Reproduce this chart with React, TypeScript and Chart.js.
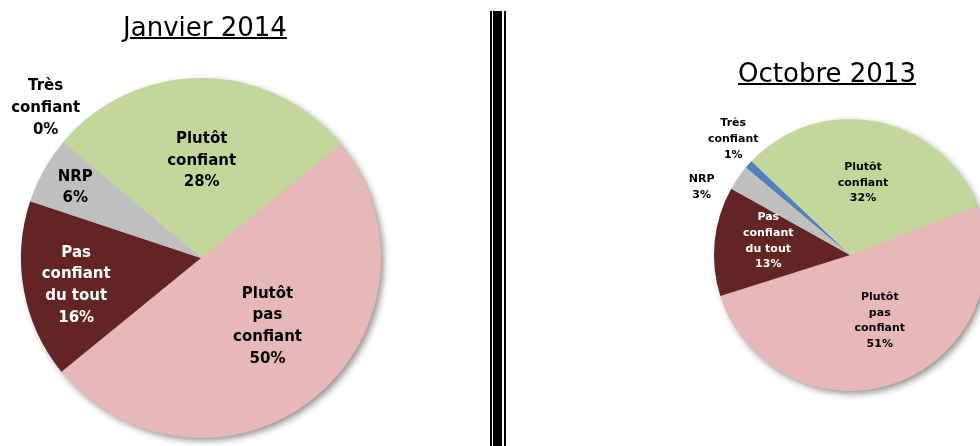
import React, { useEffect, useRef } from "react";
import { Chart, registerables } from "chart.js";
Chart.register(...registerables);

// ---- data ----
const categories: string[][] = [
  ["Très", "confiant"],
  ["Plutôt", "confiant"],
  ["Plutôt", "pas", "confiant"],
  ["Pas", "confiant", "du tout"],
  ["NRP"],
];
const jan2014Values = [0, 28, 50, 16, 6];
const oct2013Values = [1, 32, 51, 13, 3];
const titleJan = "Janvier 2014";
const titleOct = "Octobre 2013";

// ---- styles ----
const sliceColors = ["#4F81BD", "#C4D79B", "#E6B8B7", "#632523", "#BFBFBF"];
const labelColors = ["#000000", "#000000", "#000000", "#FFFFFF", "#000000"];

type Place = { f: number; off: number };

interface PieProps {
  values: number[];
  left: number;
  top: number;
  width: number;
  height: number;
  padding: { left: number; right: number; top: number; bottom: number };
  fontSize: number;
  lineHeight: number;
  places: Place[];
}

function PieChart(p: PieProps) {
  const ref = useRef<HTMLCanvasElement | null>(null);
  useEffect(() => {
    if (!ref.current) return;
    const shadowPlugin = {
      id: "shadowPlugin",
      beforeDatasetsDraw(chart: any) {
        const meta = chart.getDatasetMeta(0);
        const arc = meta.data[0];
        if (!arc) return;
        const { x, y, outerRadius } = arc.getProps(["x", "y", "outerRadius"], true);
        const ctx = chart.ctx;
        ctx.save();
        ctx.shadowColor = "rgba(0,0,0,0.45)";
        ctx.shadowBlur = 7;
        ctx.shadowOffsetX = 3;
        ctx.shadowOffsetY = 3;
        ctx.fillStyle = "#cccccc";
        ctx.beginPath();
        ctx.arc(x, y, outerRadius - 0.5, 0, Math.PI * 2);
        ctx.fill();
        ctx.restore();
      },
    };
    const labelPlugin = {
      id: "labelPlugin",
      afterDatasetsDraw(chart: any) {
        const meta = chart.getDatasetMeta(0);
        const ctx = chart.ctx;
        ctx.save();
        ctx.font = `bold ${p.fontSize}px "DejaVu Sans"`;
        ctx.textAlign = "center";
        ctx.textBaseline = "middle";
        meta.data.forEach((arc: any, i: number) => {
          const { x, y, startAngle, endAngle, outerRadius } = arc.getProps(
            ["x", "y", "startAngle", "endAngle", "outerRadius"],
            true
          );
          const pl = p.places[i];
          const mid = (startAngle + endAngle) / 2 + (pl.off * Math.PI) / 180;
          const cx = x + Math.cos(mid) * outerRadius * pl.f;
          const cy = y + Math.sin(mid) * outerRadius * pl.f;
          const lines = [...categories[i], `${p.values[i]}%`];
          const h = (lines.length - 1) * p.lineHeight;
          ctx.fillStyle = labelColors[i];
          lines.forEach((ln, k) => {
            ctx.fillText(ln, cx, cy - h / 2 + k * p.lineHeight);
          });
        });
        ctx.restore();
      },
    };
    const chart = new Chart(ref.current, {
      type: "pie",
      data: {
        labels: categories.map((c) => c.join(" ")),
        datasets: [
          {
            data: p.values,
            backgroundColor: sliceColors,
            borderWidth: 0,
          },
        ],
      },
      options: {
        animation: false,
        responsive: true,
        maintainAspectRatio: false,
        rotation: -50,
        layout: { padding: p.padding },
        plugins: {
          legend: { display: false },
          tooltip: { enabled: false },
          title: { display: false },
        },
      },
      plugins: [shadowPlugin, labelPlugin],
    });
    return () => chart.destroy();
  }, []);
  return (
    <div
      style={{
        position: "absolute",
        left: p.left,
        top: p.top,
        width: p.width,
        height: p.height,
      }}
    >
      <canvas ref={ref} />
    </div>
  );
}

const titleStyle: React.CSSProperties = {
  position: "absolute",
  width: 240,
  textAlign: "center",
  fontFamily: '"DejaVu Sans", sans-serif',
  fontSize: 26,
  lineHeight: "30px",
  textDecoration: "underline",
  textDecorationThickness: "2px",
  color: "#000",
  whiteSpace: "nowrap",
};

export default function App() {
  return (
    <div
      style={{
        position: "absolute",
        left: 0,
        top: 0,
        width: 980,
        height: 446,
        overflow: "hidden",
        background: "#ffffff",
      }}
    >
      <PieChart
        values={jan2014Values}
        left={0}
        top={0}
        width={488}
        height={446}
        padding={{ left: 21, top: 78, right: 107, bottom: 8 }}
        fontSize={15}
        lineHeight={21.7}
        places={[
          { f: 1.2, off: 4 },
          { f: 0.54, off: 0 },
          { f: 0.53, off: -5 },
          { f: 0.71, off: -2 },
          { f: 0.8, off: 0 },
        ]}
      />
      <PieChart
        values={oct2013Values}
        left={508}
        top={0}
        width={492}
        height={446}
        padding={{ left: 206, top: 119, right: 14, bottom: 55 }}
        fontSize={11}
        lineHeight={15.7}
        places={[
          { f: 1.21, off: 3 },
          { f: 0.54, off: -1 },
          { f: 0.53, off: -5 },
          { f: 0.61, off: 4 },
          { f: 1.2, off: -10 },
        ]}
      />
      <div style={{ ...titleStyle, left: 85, top: 12 }}>{titleJan}</div>
      <div style={{ ...titleStyle, left: 707, top: 58 }}>{titleOct}</div>
      <div style={{ position: "absolute", left: 490, top: 11, width: 2, height: 435, background: "#000" }} />
      <div style={{ position: "absolute", left: 493, top: 11, width: 9, height: 435, background: "#000" }} />
      <div style={{ position: "absolute", left: 504, top: 11, width: 2, height: 435, background: "#000" }} />
    </div>
  );
}
